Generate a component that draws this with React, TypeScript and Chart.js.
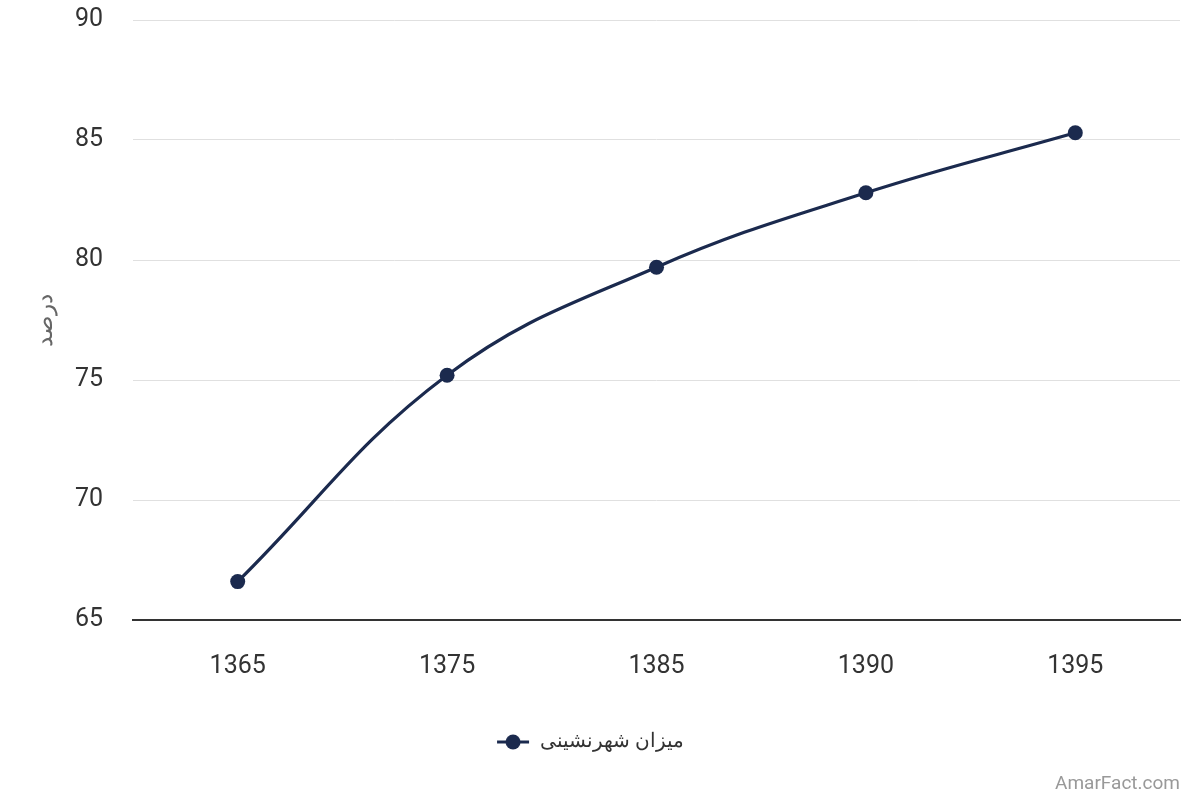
import { useEffect, useRef } from "react";
import { Chart, registerables } from "chart.js";
import type { ChartConfiguration } from "chart.js";

Chart.register(...registerables);

// data
const YEARS = ["1365", "1375", "1385", "1390", "1395"];
const URBAN_RATE = [66.6, 75.2, 79.7, 82.8, 85.3];
const SERIES_LABEL = "میزان شهرنشینی";
const Y_TITLE = "درصد";

const LINE_COLOR = "#1b2a4e";
const FONT = "Roboto, 'Noto Sans', sans-serif";

// legend marker: short line with a dot in the middle
const makeMarker = () => {
  const c = document.createElement("canvas");
  c.width = 34;
  c.height = 18;
  const ctx = c.getContext("2d");
  if (ctx) {
    ctx.strokeStyle = LINE_COLOR;
    ctx.lineWidth = 3;
    ctx.beginPath();
    ctx.moveTo(1, 9);
    ctx.lineTo(33, 9);
    ctx.stroke();
    ctx.fillStyle = LINE_COLOR;
    ctx.beginPath();
    ctx.arc(17, 9, 7.5, 0, Math.PI * 2);
    ctx.fill();
  }
  return c;
};

const createConfig = (): ChartConfiguration<"line"> => ({
  type: "line",
  data: {
    labels: YEARS,
    datasets: [
      {
        label: SERIES_LABEL,
        data: URBAN_RATE,
        borderColor: LINE_COLOR,
        backgroundColor: LINE_COLOR,
        borderWidth: 3.2,
        pointRadius: 7.5,
        pointBackgroundColor: LINE_COLOR,
        pointBorderWidth: 0,
        tension: 0.4,
      },
    ],
  },
  options: {
    responsive: false,
    animation: false,
    layout: { padding: { top: 0, right: 20, bottom: 38, left: 0 } },
    plugins: {
      tooltip: { enabled: false },
      legend: {
        position: "bottom",
        textDirection: "rtl",
        labels: {
          usePointStyle: true,
          pointStyleWidth: 34,
          color: "#333",
          padding: 20,
          font: { family: FONT, size: 20 },
          generateLabels: (chart) => {
            const ds = chart.data.datasets[0];
            return [
              {
                text: String(ds.label),
                pointStyle: makeMarker(),
                fillStyle: LINE_COLOR,
                strokeStyle: LINE_COLOR,
                lineWidth: 0,
                datasetIndex: 0,
                hidden: false,
                fontColor: "#333",
              },
            ];
          },
        },
      },
    },
    scales: {
      x: {
        offset: true,
        grid: { display: false, drawTicks: false },
        border: { display: true, color: "#333", width: 2 },
        ticks: { color: "#333", padding: 32, font: { family: FONT, size: 25 } },
        afterFit: (scale) => {
          scale.height = 92;
        },
      },
      y: {
        min: 65,
        max: 90,
        grid: { color: "#e0e0e0", lineWidth: 1, drawTicks: false },
        border: { display: false },
        ticks: {
          stepSize: 5,
          color: "#333",
          padding: 30,
          font: { family: FONT, size: 25 },
        },
        title: {
          display: true,
          text: Y_TITLE,
          color: "#666",
          padding: { top: 32, bottom: 0 },
          font: { family: FONT, size: 23 },
        },
        afterFit: (scale) => {
          scale.width = 133;
          scale.paddingTop = 20;
        },
      },
    },
  },
});

export default function App() {
  const canvasRef = useRef<HTMLCanvasElement>(null);
  const chartRef = useRef<Chart | null>(null);

  useEffect(() => {
    document.body.style.margin = "0";
    if (canvasRef.current) {
      chartRef.current = new Chart(canvasRef.current, createConfig());
    }
    return () => {
      chartRef.current?.destroy();
      chartRef.current = null;
    };
  }, []);

  return (
    <div style={{ position: "relative", width: 1200, height: 800, background: "#fff" }}>
      <canvas ref={canvasRef} width={1200} height={800} />
      <div
        style={{
          position: "absolute",
          right: 20,
          bottom: 6,
          fontFamily: FONT,
          fontSize: 19,
          color: "#999",
        }}
      >
        AmarFact.com
      </div>
    </div>
  );
}
